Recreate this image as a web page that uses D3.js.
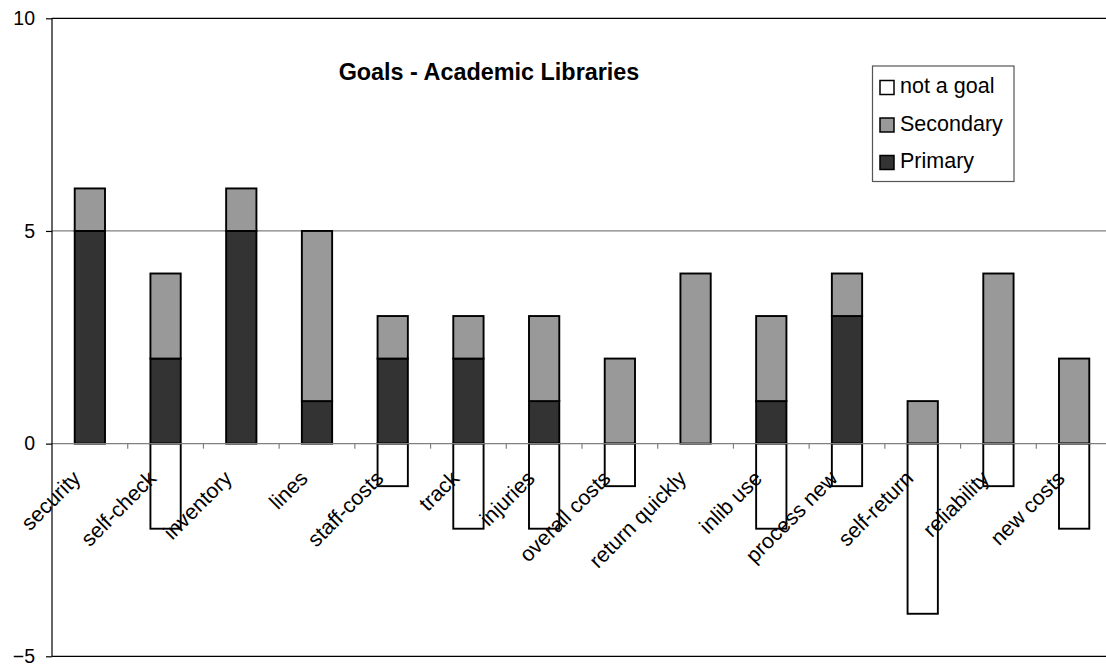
<!DOCTYPE html>
<html>
<head>
<meta charset="utf-8">
<script src="https://cdnjs.cloudflare.com/ajax/libs/d3/7.8.5/d3.min.js"></script>
<style>
  html, body { margin: 0; padding: 0; background: #fff; }
  svg { display: block; font-family: "Liberation Sans", Arial, sans-serif; }
</style>
</head>
<body>
<svg id="chart" width="1106" height="666"></svg>
<script>
// Survey categories along the x axis
const categories = ["security", "self-check", "inventory", "lines", "staff-costs", "track",
  "injuries", "overall costs", "return quickly", "inlib use", "process new", "self-return",
  "reliability", "new costs"];

// Counts per category; "not a goal" is plotted below zero
const primary   = [5, 2, 5, 1, 2, 2, 1, 0, 0, 1, 3, 0, 0, 0];
const secondary = [1, 2, 1, 4, 1, 1, 2, 2, 4, 2, 1, 1, 4, 2];
const notAGoal  = [0, -2, 0, 0, -1, -2, -2, -1, 0, -2, -1, -4, -1, -2];

const yTicks = [-5, 0, 5, 10];
const seriesKeys = ["Primary", "Secondary", "not a goal"];
const legendKeys = ["not a goal", "Secondary", "Primary"];
const colors = { "Primary": "#333333", "Secondary": "#999999", "not a goal": "#ffffff" };

const rows = categories.map((c, i) => ({
  cat: c, "Primary": primary[i], "Secondary": secondary[i], "not a goal": notAGoal[i]
}));

const svg = d3.select("#chart");
const plotLeft = 52, plotRight = 1112, plotTop = 18.3, plotBottom = 656.3;

const x = d3.scaleBand().domain(categories).range([plotLeft, plotRight])
  .paddingInner(0.6).paddingOuter(0.3);
const y = d3.scaleLinear().domain([-5, 10]).range([plotBottom, plotTop]);

// Horizontal gridline at 5 and plot frame lines
svg.append("line").attr("x1", plotLeft).attr("x2", plotRight)
  .attr("y1", y(5)).attr("y2", y(5)).attr("stroke", "#808080").attr("stroke-width", 1.2);
svg.append("line").attr("x1", plotLeft).attr("x2", plotRight)
  .attr("y1", y(10)).attr("y2", y(10)).attr("stroke", "#000").attr("stroke-width", 1.2);
svg.append("line").attr("x1", plotLeft).attr("x2", plotRight)
  .attr("y1", y(-5)).attr("y2", y(-5)).attr("stroke", "#000").attr("stroke-width", 1.2);

// Stacked bars (diverging so the "not a goal" part goes below zero)
const stacked = d3.stack().keys(seriesKeys).offset(d3.stackOffsetDiverging)(rows);
svg.append("g").selectAll("g").data(stacked).join("g")
  .attr("fill", d => colors[d.key])
  .selectAll("rect").data(d => d.filter(p => p[1] !== p[0])).join("rect")
  .attr("x", d => x(d.data.cat))
  .attr("width", x.bandwidth())
  .attr("y", d => y(Math.max(d[0], d[1])))
  .attr("height", d => Math.abs(y(d[0]) - y(d[1])))
  .attr("stroke", "#000").attr("stroke-width", 1.9);

// Zero axis with tick marks at category boundaries
svg.append("line").attr("x1", plotLeft).attr("x2", plotRight)
  .attr("y1", y(0)).attr("y2", y(0)).attr("stroke", "#808080").attr("stroke-width", 1.2);
const step = x.step();
svg.append("g").selectAll("line").data(d3.range(1, categories.length + 1)).join("line")
  .attr("x1", i => plotLeft + i * step).attr("x2", i => plotLeft + i * step)
  .attr("y1", y(0)).attr("y2", y(0) + 5)
  .attr("stroke", "#808080").attr("stroke-width", 1.2);

// Left value axis
const yAxis = svg.append("g").attr("transform", `translate(${plotLeft},0)`)
  .call(d3.axisLeft(y).tickValues(yTicks).tickSize(6).tickPadding(11).tickFormat(d3.format("d")));
yAxis.select(".domain").attr("stroke", "#000").attr("stroke-width", 1.2)
  .attr("d", `M0,${plotTop}V${plotBottom}`);
yAxis.selectAll(".tick line").attr("stroke", "#000").attr("stroke-width", 1.2);
yAxis.selectAll(".tick text").attr("font-size", 19.5).attr("fill", "#000")
  .attr("font-family", "'Liberation Sans', Arial, sans-serif");

// Rotated category labels
svg.append("g").selectAll("text").data(categories).join("text")
  .attr("transform", c => `translate(${x(c) + x.bandwidth() / 2 - 8},${y(0) + 36}) rotate(-45)`)
  .attr("text-anchor", "end")
  .attr("font-size", 21.3)
  .attr("fill", "#000")
  .text(c => c);

// Title
svg.append("text").attr("x", 489).attr("y", 80).attr("text-anchor", "middle")
  .attr("font-size", 23.4).attr("font-weight", "bold").text("Goals - Academic Libraries");

// Legend
const lg = svg.append("g");
lg.append("rect").attr("x", 872.5).attr("y", 66).attr("width", 141.5).attr("height", 115.5)
  .attr("fill", "#fff").attr("stroke", "#555").attr("stroke-width", 1.2);
const items = lg.selectAll("g").data(legendKeys).join("g")
  .attr("transform", (d, i) => `translate(0,${i * 37.5})`);
items.append("rect").attr("x", 880).attr("y", 80.5).attr("width", 14).attr("height", 14)
  .attr("fill", d => colors[d]).attr("stroke", "#000").attr("stroke-width", 1.5);
items.append("text").attr("x", 900).attr("y", 93).attr("font-size", 21.5).text(d => d);
</script>
</body>
</html>
